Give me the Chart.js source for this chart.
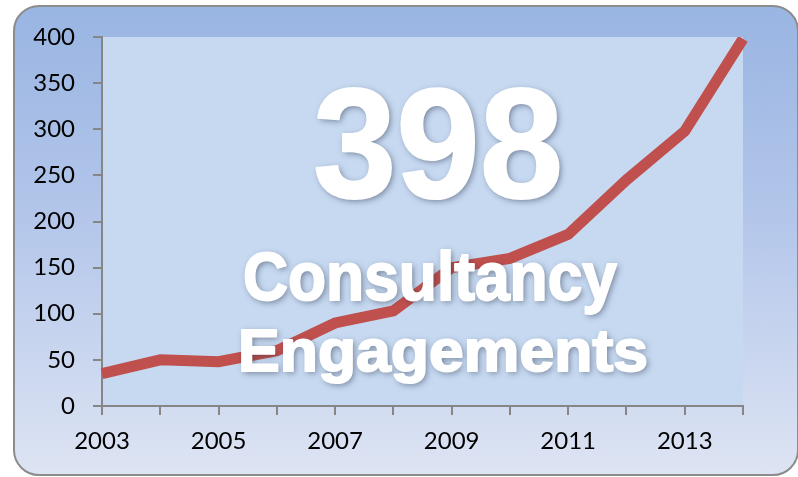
<!DOCTYPE html>
<html>
<head>
<meta charset="utf-8">
<script src="https://cdn.jsdelivr.net/npm/chart.js@4"></script>
<style>
  html, body { margin: 0; padding: 0; background: #fff; }
  #wrap { position: relative; width: 798px; height: 477px; }
  #frame {
    position: absolute; left: 13px; top: 5px; width: 782px; height: 467px;
    border: 2px solid #8c8c8c; border-radius: 26px;
    background: linear-gradient(to bottom, #99b5e2 0%, #b3c6ea 45%, #dde4f3 100%);
  }
  #c { position: absolute; left: 0; top: 0; }
</style>
</head>
<body>
<div id="wrap">
  <div id="frame"></div>
  <canvas id="c" width="798" height="477"></canvas>
</div>
<script>
// data
const years = ['2003','2004','2005','2006','2007','2008','2009','2010','2011','2012','2013','2014'];
const engagements = [35, 50, 48, 60, 90, 103, 150, 160, 186, 245, 298, 398];
const yTicks = [0, 50, 100, 150, 200, 250, 300, 350, 400];

const bigTotal = '398';
const captionLines = ['Consultancy', 'Engagements'];

// plot area fill
const plotBg = {
  id: 'plotBg',
  beforeDraw(chart) {
    const a = chart.chartArea, ctx = chart.ctx;
    ctx.save();
    ctx.fillStyle = '#c6d9f1';
    ctx.fillRect(a.left, a.top, a.right - a.left, a.bottom - a.top);
    ctx.restore();
  }
};

// big white text over the line
function bigText(ctx, txt, left, right, capTop, baseline) {
  const fs = (baseline - capTop) / 0.716;
  ctx.font = 'bold ' + fs + 'px "Liberation Sans", Arial, sans-serif';
  const w = ctx.measureText(txt).width;
  ctx.save();
  ctx.translate(left, baseline);
  ctx.scale((right - left) / w, 1);
  ctx.textBaseline = 'alphabetic';
  ctx.textAlign = 'left';
  ctx.shadowColor = 'rgba(40,50,70,0.55)';
  ctx.shadowBlur = 6;
  ctx.shadowOffsetX = 2;
  ctx.shadowOffsetY = 2;
  ctx.fillStyle = '#ffffff';
  ctx.fillText(txt, 0, 0);
  ctx.shadowColor = 'transparent';
  ctx.strokeStyle = '#ffffff';
  ctx.lineWidth = 2;
  ctx.lineJoin = 'round';
  ctx.strokeText(txt, 0, 0);
  ctx.fillText(txt, 0, 0);
  ctx.restore();
}

const overlay = {
  id: 'overlay',
  afterDraw(chart) {
    const ctx = chart.ctx;
    bigText(ctx, bigTotal, 313, 563, 86, 197);
    bigText(ctx, captionLines[0], 243, 617, 251, 300);
    bigText(ctx, captionLines[1], 238, 648, 328, 371);
  }
};

new Chart(document.getElementById('c').getContext('2d'), {
  type: 'line',
  data: {
    labels: years,
    datasets: [{
      data: engagements,
      borderColor: '#c0504d',
      borderWidth: 11,
      pointRadius: 0,
      tension: 0,
      fill: false
    }]
  },
  options: {
    responsive: false,
    animation: false,
    devicePixelRatio: 1,
    layout: { padding: { top: 37, right: 55, bottom: 0, left: 0 } },
    plugins: { legend: { display: false }, tooltip: { enabled: false } },
    scales: {
      x: {
        offset: false,
        grid: { drawOnChartArea: false, drawTicks: true, tickLength: 9, color: '#868686', lineWidth: 2 },
        border: { color: '#868686', width: 2 },
        ticks: {
          autoSkip: false, maxRotation: 0, padding: 12, color: '#000',
          font: { family: 'Lato', size: 24 },
          callback: (v, i) => (i % 2 === 0 ? years[i] : '')
        },
        afterFit: s => { s.height = 477 - 406; }
      },
      y: {
        min: 0, max: 400,
        afterBuildTicks: s => { s.ticks = yTicks.map(v => ({ value: v })); },
        grid: { drawOnChartArea: false, drawTicks: true, tickLength: 9, color: '#868686', lineWidth: 2 },
        border: { color: '#868686', width: 2 },
        ticks: { padding: 18, color: '#000', font: { family: 'Lato', size: 24 } },
        afterFit: s => { s.width = 102; }
      }
    }
  },
  plugins: [plotBg, overlay]
});
</script>
</body>
</html>
